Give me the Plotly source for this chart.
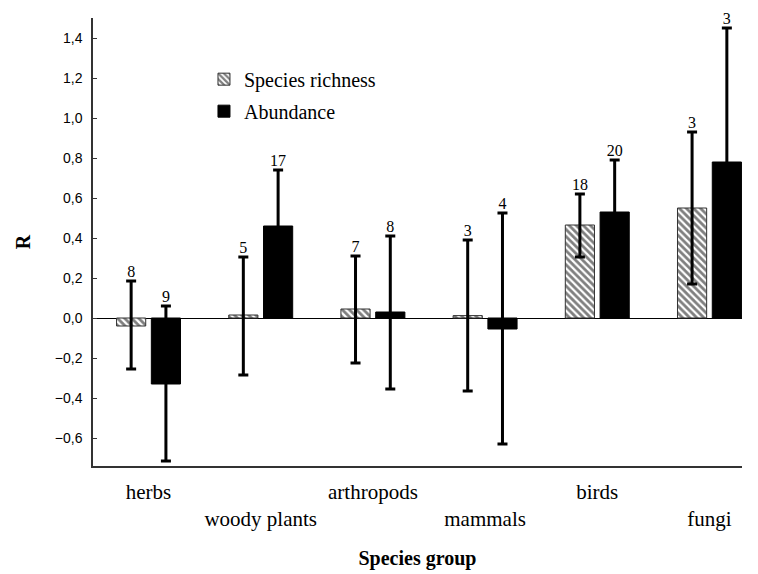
import plotly.graph_objects as go

groups = ["herbs", "woody plants", "arthropods", "mammals", "birds", "fungi"]
tick_text = ["herbs", "<br>woody plants", "arthropods", "<br>mammals", "birds", "<br>fungi"]

richness = [-0.04, 0.015, 0.045, 0.012, 0.465, 0.55]
richness_plus = [0.225, 0.29, 0.265, 0.378, 0.155, 0.38]
richness_minus = [0.215, 0.30, 0.27, 0.377, 0.16, 0.38]
richness_n = ["8", "5", "7", "3", "18", "3"]

abundance = [-0.33, 0.46, 0.03, -0.055, 0.53, 0.78]
abundance_plus = [0.39, 0.28, 0.38, 0.58, 0.26, 0.67]
abundance_minus = [0.385, 0.28, 0.385, 0.575, 0.26, 0.67]
abundance_n = ["9", "17", "8", "4", "20", "3"]

y_ticks = [-0.6, -0.4, -0.2, 0.0, 0.2, 0.4, 0.6, 0.8, 1.0, 1.2, 1.4]

BAR_W = 0.26
OFF_R = -0.285
OFF_A = 0.025

xpos = list(range(len(groups)))
serif = "Liberation Serif"

fig = go.Figure()
fig.add_trace(go.Bar(
    name="Species richness", x=xpos, y=richness, width=BAR_W, offset=OFF_R, legendgroup="r",
    marker=dict(color="white", line=dict(color="#333333", width=1),
                pattern=dict(shape="\\", fgcolor="black", bgcolor="white", size=5, solidity=0.55)),
    error_y=dict(type="data", symmetric=False, array=richness_plus, arrayminus=richness_minus,
                 color="black", thickness=3, width=5),
))
fig.add_trace(go.Bar(
    name="Abundance", x=xpos, y=abundance, width=BAR_W, offset=OFF_A, legendgroup="a",
    marker=dict(color="black", line=dict(color="black", width=1)),
    error_y=dict(type="data", symmetric=False, array=abundance_plus, arrayminus=abundance_minus,
                 color="black", thickness=3, width=5),
))

fig.add_trace(go.Scatter(
    x=[i + OFF_R + BAR_W / 2 for i in xpos],
    y=[v + p for v, p in zip(richness, richness_plus)],
    text=richness_n, mode="text", textposition="top center", cliponaxis=False,
    textfont=dict(family=serif, size=16, color="black"), showlegend=False, hoverinfo="skip",
))
fig.add_trace(go.Scatter(
    x=[i + OFF_A + BAR_W / 2 for i in xpos],
    y=[v + p for v, p in zip(abundance, abundance_plus)],
    text=abundance_n, mode="text", textposition="top center", cliponaxis=False,
    textfont=dict(family=serif, size=16, color="black"), showlegend=False, hoverinfo="skip",
))

fig.update_layout(
    width=750, height=566,
    margin=dict(l=85, r=16, t=10, b=108),
    paper_bgcolor="white", plot_bgcolor="white",
    separators=",.",
    font=dict(family=serif, color="black"),
    showlegend=True,
    legend=dict(x=0.171, y=0.907, xanchor="left", yanchor="top", bgcolor="rgba(0,0,0,0)",
                font=dict(family=serif, size=20, color="black"), tracegroupgap=3),
    xaxis=dict(range=[-0.495, 5.29], tickvals=xpos, ticktext=tick_text, ticks="",
               showline=True, linecolor="#333333", linewidth=1.5, showgrid=False, zeroline=False,
               automargin=False, ticklabelstandoff=6,
               tickfont=dict(family=serif, size=21, color="black"),
               title=dict(text="<b>Species group</b>", font=dict(family=serif, size=20, color="black"),
                          standoff=21)),
    yaxis=dict(range=[-0.74, 1.5], tickvals=y_ticks, tickformat=".1f", ticks="inside", ticklen=4,
               tickcolor="#333333", showline=True, linecolor="#333333", linewidth=1.5,
               showgrid=False, zeroline=True, zerolinecolor="black", zerolinewidth=1,
               automargin=False, ticklabelstandoff=6,
               tickfont=dict(family="Liberation Sans", size=14, color="black"),
               title=dict(text="<b>R</b>", font=dict(family=serif, size=20, color="black"), standoff=19)),
)

fig.write_html("out.html")
